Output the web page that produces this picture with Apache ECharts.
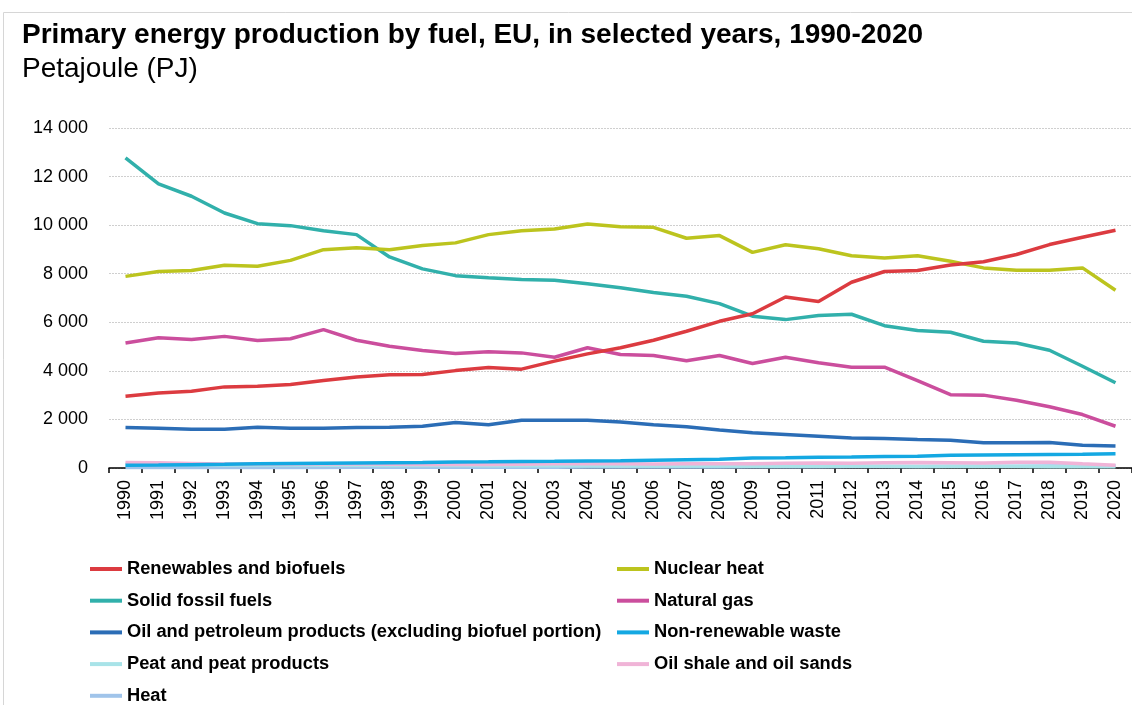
<!DOCTYPE html>
<html>
<head>
<meta charset="utf-8">
<script src="https://cdn.jsdelivr.net/npm/echarts@6/dist/echarts.min.js"></script>
<style>
	html, body { margin: 0; padding: 0; background: #fff; }
	#chart { width: 1132px; height: 705px; }
</style>
</head>
<body>
<div id="chart"></div>
<script>
	// years on the x axis
	var years = ['1990', '1991', '1992', '1993', '1994', '1995', '1996', '1997', '1998', '1999',
		'2000', '2001', '2002', '2003', '2004', '2005', '2006', '2007', '2008', '2009',
		'2010', '2011', '2012', '2013', '2014', '2015', '2016', '2017', '2018', '2019', '2020'];

	// Petajoule
	var renewables = [2950, 3090, 3160, 3340, 3370, 3440, 3600, 3750, 3840, 3850, 4010, 4140, 4070, 4400, 4700, 4950, 5260, 5630, 6040, 6350, 7040, 6860, 7650, 8090, 8130, 8360, 8490, 8790, 9200, 9500, 9790];
	var nuclear = [7890, 8090, 8130, 8350, 8310, 8550, 8990, 9070, 8990, 9160, 9270, 9610, 9770, 9840, 10050, 9930, 9910, 9460, 9570, 8880, 9190, 9030, 8740, 8650, 8740, 8510, 8240, 8140, 8140, 8240, 7320];
	var solidFossil = [12770, 11700, 11190, 10500, 10060, 9980, 9770, 9610, 8690, 8200, 7920, 7830, 7760, 7730, 7590, 7420, 7230, 7070, 6770, 6250, 6110, 6280, 6330, 5860, 5660, 5590, 5220, 5150, 4850, 4190, 3510];
	var naturalGas = [5150, 5360, 5290, 5420, 5250, 5320, 5700, 5260, 5010, 4840, 4710, 4790, 4740, 4560, 4950, 4670, 4630, 4420, 4630, 4300, 4560, 4330, 4150, 4150, 3600, 3020, 3000, 2790, 2520, 2200, 1720];
	var oil = [1670, 1640, 1600, 1600, 1680, 1640, 1640, 1670, 1680, 1720, 1870, 1780, 1970, 1970, 1970, 1890, 1780, 1700, 1560, 1450, 1380, 1310, 1240, 1210, 1170, 1140, 1040, 1040, 1050, 940, 910];
	var nonRenWaste = [110, 120, 135, 150, 170, 190, 200, 210, 220, 230, 250, 255, 265, 275, 290, 300, 320, 340, 360, 410, 420, 440, 450, 470, 480, 520, 540, 550, 560, 570, 590];
	var peat = [150, 145, 135, 125, 120, 120, 115, 110, 105, 100, 100, 95, 95, 90, 90, 85, 85, 80, 80, 75, 75, 70, 70, 70, 65, 65, 60, 60, 55, 55, 50];
	var oilShale = [230, 215, 190, 160, 165, 160, 165, 170, 150, 140, 140, 140, 150, 170, 170, 170, 165, 180, 175, 170, 200, 210, 200, 220, 230, 220, 210, 240, 240, 170, 110];
	var heat = [20, 20, 20, 25, 25, 25, 25, 30, 30, 30, 30, 35, 35, 35, 40, 40, 40, 45, 45, 50, 55, 55, 60, 60, 65, 70, 70, 75, 80, 85, 90];

	var yTicks = [0, 2000, 4000, 6000, 8000, 10000, 12000, 14000];

	var names = [
		'Renewables and biofuels', 'Nuclear heat', 'Solid fossil fuels', 'Natural gas',
		'Oil and petroleum products (excluding biofuel portion)', 'Non-renewable waste',
		'Peat and peat products', 'Oil shale and oil sands', 'Heat'
	];
	var colors = ['#dc3b40', '#bcc41e', '#31b0ab', '#cb4e9d', '#2b6db6', '#14a8e2', '#a8e3e8', '#f0b4d7', '#a0c4ea'];
	var values = [renewables, nuclear, solidFossil, naturalGas, oil, nonRenWaste, peat, oilShale, heat];

	var font = '"Liberation Sans", Arial, sans-serif';

	function fmt(v) {
		return String(v).replace(/\B(?=(\d{3})+(?!\d))/g, ' ');
	}

	// draw order: small ones first so the big lines lie on top
	var order = [8, 6, 7, 5, 4, 3, 2, 1, 0];
	var series = [];
	order.forEach(function (i) {
		series.push({
			name: names[i],
			type: 'line',
			data: values[i],
			showSymbol: false,
			symbol: 'none',
			lineStyle: { width: 3.5, color: colors[i] },
			itemStyle: { color: colors[i] },
			animation: false
		});
	});

	var legendText = { color: '#000', fontFamily: font, fontWeight: 'bold', fontSize: 18.3, lineHeight: 20 };

	var chart = echarts.init(document.getElementById('chart'));
	var option = {
		backgroundColor: '#fff',
		animation: false,
		graphic: [{
			type: 'rect',
			shape: { x: 3.5, y: 12.5, width: 1200, height: 800 },
			style: { fill: 'none', stroke: '#d6d6d6', lineWidth: 1 },
			silent: true
		}],
		title: [{
			text: 'Primary energy production by fuel, EU, in selected years, 1990-2020',
			left: 17, top: 16,
			textStyle: { color: '#000', fontFamily: font, fontWeight: 'bold', fontSize: 28 }
		}, {
			text: 'Petajoule (PJ)',
			left: 17, top: 50,
			textStyle: { color: '#000', fontFamily: font, fontWeight: 'normal', fontSize: 28 }
		}],
		legend: [{
			data: [names[0], names[2], names[4], names[6], names[8]],
			orient: 'vertical',
			left: 90, top: 559, height: 170, padding: 0,
			icon: 'rect', itemWidth: 32, itemHeight: 4, itemGap: 11.7,
			textStyle: legendText,
			selectedMode: false
		}, {
			data: [names[1], names[3], names[5], names[7]],
			orient: 'vertical',
			left: 617, top: 559, height: 170, padding: 0,
			icon: 'rect', itemWidth: 32, itemHeight: 4, itemGap: 11.7,
			textStyle: legendText,
			selectedMode: false
		}],
		grid: { left: 109, right: -3, top: 128, bottom: 237, containLabel: false },
		xAxis: {
			type: 'category',
			data: years,
			boundaryGap: true,
			axisLine: { show: true, lineStyle: { color: '#000', width: 1.5 } },
			axisTick: { show: true, length: 5, lineStyle: { color: '#000', width: 1.5 } },
			axisLabel: { rotate: 90, color: '#000', fontFamily: font, fontSize: 18, margin: 12, interval: 0 }
		},
		yAxis: {
			type: 'value',
			min: yTicks[0], max: yTicks[yTicks.length - 1], interval: 2000,
			axisLine: { show: false },
			axisTick: { show: false },
			axisLabel: { color: '#000', fontFamily: font, fontSize: 18, margin: 21, formatter: fmt },
			splitLine: { show: true, lineStyle: { color: '#cfcfcf', type: [2, 1], width: 1 } }
		},
		series: series
	};
	chart.setOption(option);
</script>
</body>
</html>
